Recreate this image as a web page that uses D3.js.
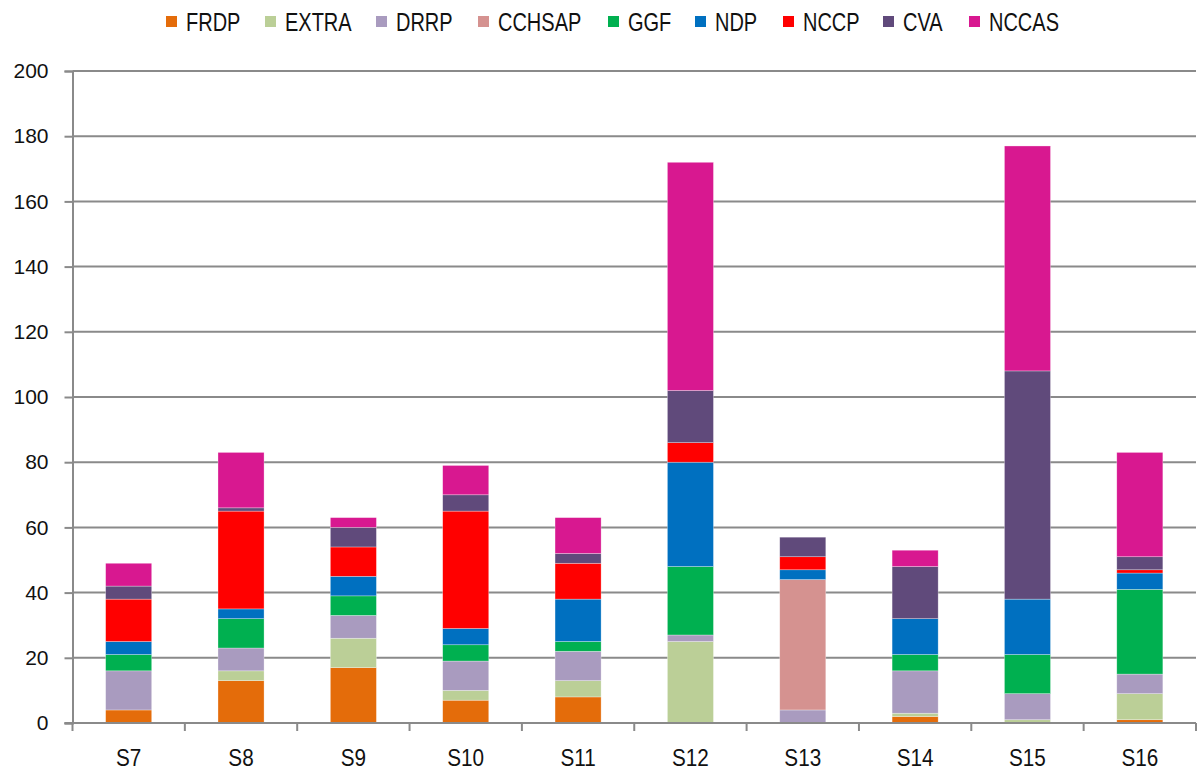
<!DOCTYPE html>
<html>
<head>
<meta charset="utf-8">
<script src="https://cdn.jsdelivr.net/npm/d3@7/dist/d3.min.js"></script>
<style>
  body { margin: 0; background: #fff; }
  svg text { font-family: "Liberation Sans", Arial, sans-serif; fill: #111; }
</style>
</head>
<body>
<script>
// categories and series (stack order bottom -> top)
var categories = ["S7", "S8", "S9", "S10", "S11", "S12", "S13", "S14", "S15", "S16"];
var seriesNames = ["FRDP", "EXTRA", "DRRP", "CCHSAP", "GGF", "NDP", "NCCP", "CVA", "NCCAS"];
var seriesColors = ["#e46c0a", "#bbcf97", "#a99bbf", "#d59290", "#00b050", "#0070c0", "#ff0000", "#604a7b", "#d81890"];

var FRDP   = [4, 13, 17, 7, 8, 0, 0, 2, 0, 1];
var EXTRA  = [0, 3, 9, 3, 5, 25, 0, 1, 1, 8];
var DRRP   = [12, 7, 7, 9, 9, 2, 4, 13, 8, 6];
var CCHSAP = [0, 0, 0, 0, 0, 0, 40, 0, 0, 0];
var GGF    = [5, 9, 6, 5, 3, 21, 0, 5, 12, 26];
var NDP    = [4, 3, 6, 5, 13, 32, 3, 11, 17, 5];
var NCCP   = [13, 30, 9, 36, 11, 6, 4, 0, 0, 1];
var CVA    = [4, 1, 6, 5, 3, 16, 6, 16, 70, 4];
var NCCAS  = [7, 17, 3, 9, 11, 70, 0, 5, 69, 32];

var yTicks = [0, 20, 40, 60, 80, 100, 120, 140, 160, 180, 200];

var seriesValues = [FRDP, EXTRA, DRRP, CCHSAP, GGF, NDP, NCCP, CVA, NCCAS];

(function () {
    // build rows for d3.stack
    var table = categories.map(function (c, i) {
        var row = { cat: c };
        seriesNames.forEach(function (s, j) { row[s] = seriesValues[j][i]; });
        return row;
    });

    var w = 1197, h = 771;
    var mLeft = 72.5, mRight = 1196, mTop = 71, mBottom = 723;
    var gridColor = "#8a8a8a";

    var svg = d3.select("body").append("svg")
        .attr("width", w)
        .attr("height", h);

    var x = d3.scaleBand()
        .domain(categories)
        .range([mLeft, mRight])
        .paddingInner(0)
        .paddingOuter(0);

    var y = d3.scaleLinear()
        .domain([0, 200])
        .range([mBottom, mTop]);

    var barW = x.bandwidth() * 0.41;

    // gridlines
    svg.append("g")
        .selectAll("line")
        .data(yTicks.filter(function (t) { return t > 0; }))
        .enter()
        .append("line")
        .attr("x1", mLeft)
        .attr("x2", mRight)
        .attr("y1", function (d) { return y(d); })
        .attr("y2", function (d) { return y(d); })
        .attr("stroke", gridColor)
        .attr("stroke-width", 2);

    // stacked bars
    var stacked = d3.stack().keys(seriesNames)(table);

    svg.append("g")
        .selectAll("g")
        .data(stacked)
        .enter()
        .append("g")
        .attr("fill", function (d, i) { return seriesColors[i]; })
        .selectAll("rect")
        .data(function (d) { return d.filter(function (p) { return p[1] - p[0] > 0; }); })
        .enter()
        .append("rect")
        .attr("x", function (d) { return x(d.data.cat) + (x.bandwidth() - barW) / 2; })
        .attr("width", barW)
        .attr("y", function (d) { return y(d[1]); })
        .attr("height", function (d) { return y(d[0]) - y(d[1]); })
        .attr("stroke", "#fff")
        .attr("stroke-opacity", 0.5)
        .attr("stroke-width", 0.6);

    // y axis
    var yAxis = svg.append("g")
        .attr("transform", "translate(" + mLeft + ",0)")
        .call(d3.axisLeft(y).tickValues(yTicks).tickSize(8).tickPadding(16));
    yAxis.select(".domain").attr("stroke", gridColor).attr("stroke-width", 2);
    yAxis.selectAll(".tick line").attr("stroke", gridColor).attr("stroke-width", 2);
    yAxis.selectAll("text").style("font-size", "21px").attr("fill", "#111");

    // x axis: ticks at band boundaries, labels centred
    var xg = svg.append("g").attr("transform", "translate(0," + mBottom + ")");
    xg.append("line")
        .attr("x1", mLeft - 8).attr("x2", mRight)
        .attr("stroke", gridColor).attr("stroke-width", 2);
    xg.selectAll("line.tk")
        .data(d3.range(categories.length + 1))
        .enter()
        .append("line")
        .attr("class", "tk")
        .attr("x1", function (i) { return mLeft + i * x.step(); })
        .attr("x2", function (i) { return mLeft + i * x.step(); })
        .attr("y1", 0).attr("y2", 8)
        .attr("stroke", gridColor).attr("stroke-width", 2);
    xg.selectAll("text")
        .data(categories)
        .enter()
        .append("text")
        .attr("transform", function (d) {
            return "translate(" + (x(d) + x.bandwidth() / 2) + ",43) scale(0.9,1)";
        })
        .attr("text-anchor", "middle")
        .style("font-size", "23px")
        .text(function (d) { return d; });

    // legend (narrow text, squeezed horizontally)
    var legendX = [166, 265, 376, 478, 608, 695, 783, 883, 969];
    var items = svg.append("g")
        .selectAll("g")
        .data(seriesNames)
        .enter()
        .append("g")
        .attr("transform", function (d, i) { return "translate(" + legendX[i] + ",0)"; });
    items.append("rect")
        .attr("x", 0).attr("y", 16)
        .attr("width", 11).attr("height", 11)
        .attr("fill", function (d, i) { return seriesColors[i]; });
    items.append("text")
        .attr("transform", "translate(20,30.5) scale(0.8,1)")
        .style("font-size", "25px")
        .text(function (d) { return d; });
})();
</script>
</body>
</html>
